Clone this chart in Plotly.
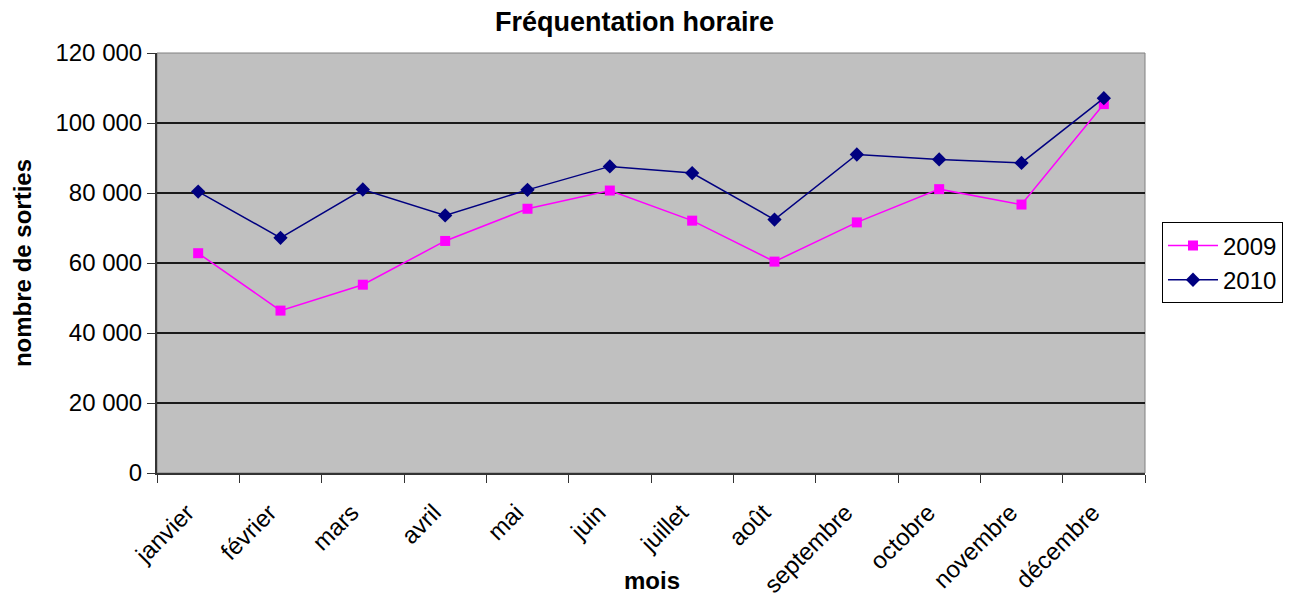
import plotly.graph_objects as go

mois = ["janvier", "février", "mars", "avril", "mai", "juin", "juillet", "août",
        "septembre", "octobre", "novembre", "décembre"]
serie_2009 = [62800, 46400, 53800, 66300, 75500, 80700, 72100, 60400, 71600, 81100, 76700, 105400]
serie_2010 = [80400, 67200, 81000, 73600, 80900, 87600, 85700, 72400, 91000, 89600, 88600, 107100]
y_ticks = [0, 20000, 40000, 60000, 80000, 100000, 120000]
y_tick_labels = ["0", "20 000", "40 000", "60 000", "80 000", "100 000", "120 000"]

font_family = "Liberation Sans, Arial, sans-serif"

fig = go.Figure()
fig.add_trace(go.Scatter(
    x=mois, y=serie_2009, name="2009", mode="lines+markers",
    line=dict(color="#FF00FF", width=1.5),
    marker=dict(symbol="square", size=10, color="#FF00FF"),
))
fig.add_trace(go.Scatter(
    x=mois, y=serie_2010, name="2010", mode="lines+markers",
    line=dict(color="#000080", width=1.5),
    marker=dict(symbol="diamond", size=11, color="#000080"),
))

# page has an 8px body margin: plot area at x 157..1145, y 53..473 on the page
fig.update_layout(
    width=1292, height=602,
    margin=dict(l=149, r=155, t=45, b=137),
    paper_bgcolor="white",
    plot_bgcolor="#C0C0C0",
    font=dict(family=font_family, color="black", size=24),
    title=dict(text="<b>Fréquentation horaire</b>", x=0.485, xanchor="center",
               y=0.977, yanchor="middle", font=dict(size=27)),
    showlegend=True,
    legend=dict(x=1.017, y=0.597, xanchor="left", yanchor="top",
                bgcolor="white", bordercolor="black", borderwidth=1.2,
                font=dict(size=24), tracegroupgap=0, itemwidth=50),
    xaxis=dict(
        type="category", tickson="boundaries", ticks="outside", ticklen=8,
        tickcolor="#333333", tickangle=-45, showgrid=False,
        showline=True, linecolor="#333333", linewidth=2, mirror=False,
        range=[-0.5, 11.5], tickfont=dict(size=24),
        ticklabelshift=-11, ticklabelstandoff=14,
    ),
    yaxis=dict(
        range=[0, 120000], tickvals=y_ticks, ticktext=y_tick_labels,
        ticks="outside", ticklen=8, tickcolor="#333333",
        showgrid=True, gridcolor="#1a1a1a", gridwidth=1.5,
        showline=True, linecolor="#333333", linewidth=2,
        zeroline=False, tickfont=dict(size=24),
    ),
    shapes=[dict(type="rect", xref="paper", yref="paper", x0=0, x1=1, y0=0, y1=1,
                 line=dict(color="#808080", width=1), layer="below")],
    annotations=[
        dict(text="<b>mois</b>", xref="paper", yref="paper", x=0.501, y=-0.255,
             xanchor="center", yanchor="middle", showarrow=False, font=dict(size=24)),
        dict(text="<b>nombre de sorties</b>", xref="paper", yref="paper", x=-0.1366, y=0.5,
             xanchor="center", yanchor="middle", textangle=-90, showarrow=False,
             font=dict(size=24)),
    ],
)

fig.write_html("out.html")
